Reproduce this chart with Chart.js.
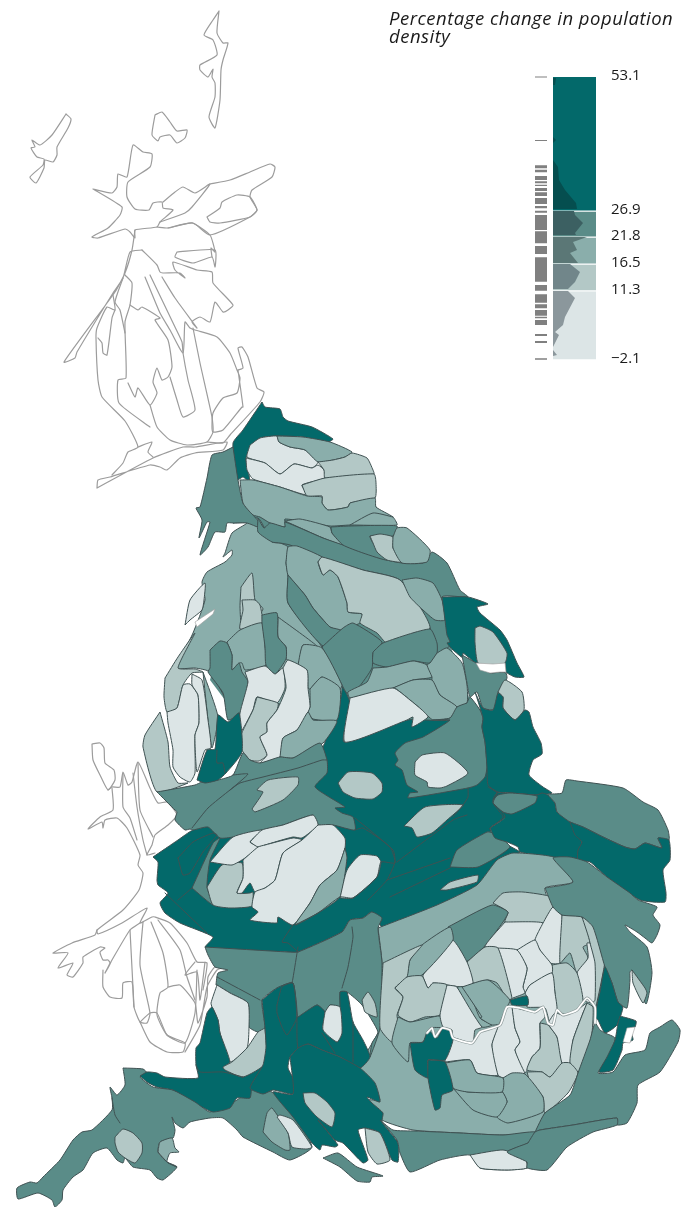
<!DOCTYPE html>
<html>
<head>
<meta charset="utf-8">
<title>Percentage change in population density</title>
<script src="https://cdn.jsdelivr.net/npm/chart.js@4"></script>
<style>
  html, body { margin: 0; padding: 0; background: #fff; }
  #map { display: block; }
</style>
</head>
<body>
<canvas id="map" width="684" height="1207"></canvas>
<script>
// --------------- Legend values ---------------
const legendTitle = ['Percentage change in population', 'density'];
const bandEdges   = [53.1, 26.9, 21.8, 16.5, 11.3, -2.1];
const bandLabels  = ['53.1', '26.9', '21.8', '16.5', '11.3', '\u22122.1'];
// one span of the rug per run of districts, [top, bottom] in percent
const rugSpans = [
  [53.2, 53.0], [40.8, 40.6], [35.84, 35.25], [34.98, 34.47], [33.74, 32.96], [32.71, 32.32],
  [32.04, 31.79], [31.4, 30.81], [30.56, 29.83], [29.44, 28.27], [27.88, 27.43], [26.96, 26.57],
  [26.12, 23.19], [22.93, 20.59], [20.06, 18.5], [17.85, 13.08], [12.43, 11.32], [10.62, 8.97],
  [8.66, 7.88], [7.55, 6.43], [6.24, 5.92], [5.59, 4.61], [2.86, 2.46], [1.48, 1.1], [-1.9, -2.2],
];
// distribution inside each band, [band, x,y, x,y ...] on map coordinates
const legendProfile = [
  [0, [553,78, 556,78, 555,85, 553,85]],
  [0, [553,137, 556,140, 553,143]],
  [0, [553,160, 558,167, 559,180, 565,190, 576,203, 577,209, 553,209]],
  [1, [553,211, 574,211, 575,215, 583,223, 575,233, 576,235, 553,235]],
  [2, [553,237, 587,237, 573,242, 577,250, 570,253, 578,263, 553,263]],
  [3, [553,264, 570,264, 580,272, 575,282, 568,289, 553,289]],
  [4, [553,291, 568,291, 575,298, 565,317, 563,325, 555,332, 559,335, 553,347, 553,350, 557,355, 553,356]],
];

// --------------- Scotland and Wales (outline only) ---------------
const scotlandLines = [
  [219,11, 217,33, 223,43, 228,43, 223,60, 221,70, 220,100, 215,128, 209,117, 215,97, 215,83, 212,77, 213,69, 208,77, 200,70, 200,65, 217,55, 213,40, 204,35, 213,20, 219,11],
  [155,115, 162,112, 170,122, 177,131, 187,130, 185,138, 177,143, 170,135, 160,137, 158,141, 152,135, 155,115],
  [66,114, 71,119, 68,128, 57,147, 57,155, 53,162, 45,160, 44,168, 36,183, 30,177, 43,165, 44,159, 37,157, 31,148, 35,147, 32,140, 40,145, 52,135, 66,114],
  [93,189, 112,193, 117,187, 118,174, 127,177, 133,145, 143,152, 152,154, 150,167, 128,182, 127,197, 135,209, 149,210, 153,203, 162,202, 163,208, 173,210, 160,222, 157,227, 135,230, 135,238, 130,232, 125,229, 98,238, 92,237, 108,228, 120,215, 122,207, 93,189],
  [163,202, 175,192, 183,187, 195,193, 210,184, 192,207, 185,213, 160,222],
  [210,184, 230,180, 250,172, 270,164, 275,167, 272,177, 252,190, 250,197, 257,210, 250,217, 210,235, 193,223, 168,228, 157,227],
  [207,217, 220,208, 222,202, 237,195, 250,197, 257,210, 250,217, 220,223, 210,222, 207,217],
  [168,228, 192,223, 210,235, 215,252, 211,248, 212,257],
  [142,250, 157,265, 160,272, 163,273, 180,273, 185,278, 175,270, 173,262, 197,270, 212,272, 213,283, 233,305, 228,310, 223,312, 215,302, 210,322, 200,317, 192,322, 197,328, 175,298, 162,277],
  [177,252, 215,250, 215,267, 212,257, 193,263, 175,257, 177,252],
  [135,230, 132,250, 125,273, 115,292, 64,362, 75,358, 77,352, 113,293, 123,278, 130,252, 142,250],
  [113,295, 115,310, 107,307, 97,328, 96,338, 98,380, 102,397, 125,421, 138,447, 128,452, 123,463, 112,475],
  [98,338, 102,343, 103,353, 107,355, 112,318, 115,310],
  [125,275, 132,283, 130,305, 125,322, 126,378, 118,380, 119,403, 150,427],
  [123,278, 115,302, 120,310, 125,333],
  [130,305, 138,310, 142,307, 160,318, 155,320, 168,340, 172,367, 168,377, 162,380, 157,368, 153,382, 157,393, 150,405, 138,388, 135,397, 128,383],
  [145,277, 160,313, 170,330, 183,353, 185,322, 190,328, 195,330, 217,337, 230,353, 237,370, 240,378, 237,393, 223,398, 213,413, 212,427, 213,432, 223,430, 242,407, 243,407, 238,370],
  [150,275, 175,327, 182,342, 183,353, 188,380, 195,410, 183,417, 177,400, 170,377],
  [193,328, 200,363, 212,417, 213,432, 207,442, 187,445, 170,440, 157,427, 150,405],
  [238,370, 243,368, 238,348, 242,347, 248,357, 257,388, 264,392, 260,402, 230,435, 223,443, 207,442],
  [97,488, 153,458, 183,447, 195,447, 227,442, 223,450, 195,453, 180,458, 167,470, 160,467, 150,465, 110,477, 98,480, 97,488],
  [138,447, 152,442, 148,452, 153,457],
];
const walesLines = [
  [92,744, 100,743, 104,748, 105,763, 114,770, 115,780, 108,790, 100,775, 93,760, 92,744],
  [108,790, 112,787, 120,787, 123,772, 128,785, 132,782, 138,762, 150,788, 158,803, 167,802, 177,815, 168,825, 155,835, 152,845, 147,855, 155,853],
  [112,788, 113,810, 100,817, 88,829, 102,822, 103,828, 105,820, 117,818, 127,828, 140,855, 138,865, 143,873, 139,890, 123,910, 97,930, 98,934, 122,923, 147,908, 140,923, 152,917, 155,917, 170,923, 187,943, 197,962, 207,963, 203,990],
  [123,773, 123,807, 130,818, 137,840],
  [133,773, 137,807, 143,840, 147,855],
  [138,763, 140,810, 153,837],
  [97,930, 95,935, 72,943, 53,953, 68,953, 58,968, 73,963, 67,975, 73,977, 83,963, 83,957, 100,947, 105,948, 100,952, 103,960, 108,960, 110,963, 105,973, 108,968, 112,960, 130,930, 140,923],
  [103,970, 103,987, 110,997, 122,998, 123,983, 132,982, 134,1007, 140,1022, 147,1023, 150,1013, 140,965, 143,922],
  [130,930, 134,1007],
  [151,922, 163,953, 168,987, 160,993, 157,1015, 167,1035, 185,1043, 195,1013, 197,970],
  [158,920, 180,950, 187,977, 195,1000],
  [140,1022, 150,1013, 157,1013, 167,1035, 185,1043, 183,1052, 167,1052, 150,1042, 140,1022],
  [168,987, 180,985, 195,1003, 198,1023, 207,997, 208,977, 215,967, 225,967, 217,970, 207,987, 200,1025, 185,1052],
  [195,962, 185,975, 197,972, 200,1000, 205,962],
];

// --------------- England, painted back to front: [band, x,y, x,y ...] ---------------
const northUnderlay = [250,490, 375,505, 395,530, 430,560, 440,600, 452,650, 470,700, 480,790, 345,745, 240,720, 210,680, 240,570, 250,530];
const northAreas = [
  [0, [153,857, 178,840, 193,830, 222,823, 300,790, 318,758, 325,742, 333,720, 342,687, 350,703, 344,742, 407,720, 450,720, 467,703, 480,710, 487,767, 498,792, 505,817, 490,828, 495,838, 520,852, 513,855, 495,866, 482,882, 440,908, 385,930, 372,912, 363,918, 350,920, 342,932, 298,952, 288,952, 210,948, 205,947, 213,937, 180,923, 165,913, 160,903, 168,893, 158,885, 157,880, 158,862]],
  [2, [233,523, 247,523, 232,533, 225,553, 223,557, 232,550, 232,555, 225,562, 207,572, 202,582, 205,600, 193,633, 177,668, 195,668, 210,672, 235,715, 240,710, 265,700, 310,715, 333,722, 342,687, 322,647, 288,603, 288,575, 286,563, 288,547, 280,543, 272,542, 258,518]],
  [0, [262,402, 265,407, 280,409, 283,417, 288,421, 312,427, 333,439, 328,442, 303,437, 277,436, 260,438, 252,447, 246,458, 250,482, 243,477, 237,480, 233,443, 243,430]],
  [1, [233,447, 223,452, 212,455, 207,478, 200,507, 196,508, 202,520, 199,538, 207,522, 210,522, 200,555, 208,547, 215,532, 225,532, 227,523, 233,523, 247,523, 260,528, 264,528, 253,515, 243,503, 238,480]],
  [4, [250,445, 260,438, 277,436, 279,442, 290,447, 305,450, 318,462, 312,468, 294,464, 280,474, 265,463, 247,457]],
  [4, [246,458, 265,463, 280,474, 294,464, 312,468, 318,465, 324,470, 325,478, 302,485, 307,495, 280,487, 253,479, 247,470]],
  [2, [277,436, 303,437, 330,442, 352,452, 345,457, 333,460, 318,462, 305,450, 290,447, 279,442]],
  [3, [318,462, 333,460, 345,457, 352,453, 367,458, 373,470, 374,474, 325,478, 324,470]],
  [3, [302,485, 325,478, 374,474, 376,483, 375,498, 350,503, 348,507, 328,510, 322,503, 322,496, 307,496]],
  [2, [240,480, 253,480, 280,487, 307,496, 322,497, 322,503, 328,510, 348,507, 350,503, 375,498, 376,507, 393,517, 397,525, 350,525, 330,526, 285,519, 285,527, 270,523, 260,517, 253,515, 243,503]],
  [2, [285,521, 300,519, 330,527, 332,533, 343,545, 323,538]],
  [1, [258,518, 264,528, 270,523, 285,527, 285,522, 323,538, 343,545, 387,560, 402,563, 423,563, 432,552, 447,563, 460,590, 468,597, 442,597, 452,642, 438,655, 430,628, 400,580, 363,570, 322,557, 290,545, 280,543, 272,542, 258,532]],
  [1, [331,527, 350,526, 397,526, 393,536, 370,536, 373,543, 387,560, 363,553, 343,545, 332,533]],
  [3, [370,536, 380,534, 393,537, 393,548, 402,562, 387,560, 377,552, 373,543]],
  [2, [393,537, 397,528, 407,528, 430,550, 427,562, 402,563, 393,548]],
  [2, [286,563, 288,547, 297,546, 322,557, 318,562, 323,575, 330,570, 338,577, 347,603, 348,612, 362,614, 360,623, 340,630, 330,627, 313,608, 305,595, 288,575]],
  [3, [318,562, 322,557, 363,570, 400,580, 430,628, 387,643, 377,633, 360,623, 362,614, 348,612, 347,603, 338,577, 330,570, 323,575]],
  [2, [402,580, 417,578, 433,583, 442,600, 445,620, 435,620, 423,610, 410,597]],
  [1, [288,575, 305,595, 313,608, 330,627, 340,630, 347,642, 323,646, 288,603]],
  [1, [322,647, 343,628, 353,623, 382,642, 373,653, 372,668, 358,688, 347,693, 342,685]],
  [1, [373,652, 383,643, 430,629, 437,643, 437,653, 430,663, 413,661, 387,667, 373,663]],
  [2, [373,668, 387,667, 413,661, 427,665, 432,677, 413,680, 393,688, 350,698, 348,692, 367,682]],
  [2, [437,653, 447,648, 462,663, 467,685, 467,703, 457,707, 450,702, 440,695, 432,680, 432,677, 427,665, 430,663]],
  [2, [393,688, 413,680, 432,680, 440,695, 457,707, 450,718, 433,720, 422,710, 410,700, 395,688]],
  [4, [350,698, 393,688, 410,700, 422,710, 428,717, 412,727, 413,717, 407,720, 345,742]],
  [1, [467,703, 470,697, 480,710, 483,718, 482,727, 485,742, 487,767, 485,777, 477,785, 468,788, 408,798, 410,793, 418,792, 407,785, 402,770, 395,765, 398,760, 395,753, 405,743, 423,737, 450,720, 433,720, 450,718, 457,707]],
  [4, [415,762, 422,755, 445,753, 468,773, 447,786, 440,788, 428,787, 427,782, 415,775]],
  [0, [442,597, 468,597, 488,604, 477,607, 480,613, 500,630, 507,640, 517,663, 524,677, 515,677, 506,672, 505,663, 493,665, 476,663, 463,653, 463,658, 453,650, 447,643, 450,642, 447,635, 445,620]],
  [3, [475,628, 480,626, 493,632, 507,653, 505,663, 493,665, 478,663, 475,643]],
  [1, [462,655, 476,663, 490,673, 500,672, 506,673, 507,678, 505,682, 498,692, 496,707, 493,710, 483,708, 477,692, 470,697, 467,683]],
  [3, [498,692, 505,680, 522,692, 524,710, 515,720, 503,708, 503,697]],
  [0, [475,692, 483,708, 493,710, 498,693, 503,697, 503,708, 515,720, 525,710, 529,712, 533,727, 541,743, 542,754, 533,760, 529,775, 543,787, 552,793, 537,795, 510,793, 498,792, 488,785, 487,767, 485,742, 482,727, 483,718]],
];
const lancashireAreas = [
  [3, [241,587, 252,573, 255,600, 263,609, 253,622, 242,627, 240,607]],
  [4, [185,625, 190,600, 205,583, 204,600, 202,610, 190,620]],
  [3, [242,600, 255,600, 260,605, 262,623, 240,629, 243,610]],
  [2, [278,617, 318,647, 303,645, 298,665, 288,660, 286,659, 286,647, 278,637]],
  [2, [227,642, 240,630, 262,623, 265,647, 266,665, 245,670, 242,663, 239,663, 232,670, 232,655]],
  [2, [298,665, 303,645, 322,648, 342,685, 340,689, 322,677, 310,689, 308,688, 307,670]],
  [2, [310,689, 322,677, 340,688, 337,720, 313,719, 308,712, 310,707]],
  [1, [262,615, 277,613, 278,637, 286,647, 286,659, 275,674, 266,665, 265,647, 262,623]],
  [1, [210,650, 220,641, 227,643, 232,655, 232,670, 239,663, 242,672, 248,682, 240,713, 228,720, 223,693, 208,672, 210,668]],
  [3, [165,678, 178,657, 195,633, 178,668, 195,669, 203,672, 192,673, 183,685, 177,708, 167,712, 164,697]],
  [2, [203,672, 218,717, 212,748, 208,720]],
  [4, [167,712, 177,708, 183,685, 190,684, 198,695, 199,723, 195,735, 195,773, 190,782, 180,777, 173,767, 173,750, 168,723]],
  [4, [192,674, 202,680, 208,720, 211,748, 205,750, 197,772, 195,735, 199,723, 198,695, 192,685]],
  [3, [160,712, 168,742, 170,767, 178,783, 188,783, 157,792, 143,747, 145,735]],
  [4, [245,672, 265,666, 275,674, 283,668, 285,688, 277,703, 257,697, 253,710, 240,733, 240,713, 248,682]],
  [3, [257,697, 278,703, 277,710, 267,723, 267,732, 260,737, 267,755, 259,761, 250,760, 240,747, 240,737, 253,710]],
  [4, [283,668, 288,660, 307,670, 308,688, 310,707, 305,718, 297,730, 283,738, 280,757, 260,763, 267,755, 260,737, 267,732, 267,723, 277,710, 286,688]],
  [2, [280,757, 283,738, 297,730, 308,712, 313,720, 337,721, 323,743, 293,758]],
  [1, [157,792, 175,810, 177,812, 175,820, 185,830, 190,829, 193,830, 208,827, 220,838, 233,837, 262,830, 283,825, 313,815, 318,825, 333,825, 355,830, 353,817, 342,813, 335,808, 345,807, 315,787, 327,773, 327,760, 320,743, 293,758, 280,757, 260,763, 250,760, 243,753, 233,775, 218,780, 202,782, 195,785]],
  [3, [252,809, 263,792, 257,790, 268,780, 298,777, 298,785, 283,800, 255,812]],
  [0, [197,780, 207,750, 215,749, 218,715, 228,722, 239,713, 242,752, 226,773, 218,780, 205,783]],
];
const westMidlandAreas = [
  [1, [192,888, 213,843, 220,838, 210,860, 207,887, 213,905]],
  [3, [207,887, 222,865, 242,863, 243,878, 237,893, 250,893, 253,892, 252,906, 230,908, 213,905]],
  [4, [210,862, 233,837, 262,830, 250,842, 258,847, 245,858, 232,865]],
  [4, [250,842, 262,830, 283,825, 313,815, 318,825, 302,838, 293,837, 265,845, 258,847]],
  [4, [243,860, 258,847, 265,845, 293,838, 302,840, 283,853, 275,880, 265,888, 255,892, 250,883, 242,893, 237,893, 243,878]],
  [4, [318,825, 333,825, 345,838, 345,848, 337,870, 320,885, 310,903, 293,925, 278,917, 277,923, 250,920, 258,912, 252,907, 255,892, 265,888, 275,880, 283,853, 302,840]],
  [2, [345,848, 347,858, 340,897, 318,913, 295,925, 310,903, 320,885, 337,870]],
  [4, [340,898, 347,870, 360,855, 377,856, 381,862, 377,877, 353,898]],
  [3, [338,783, 348,772, 372,773, 382,783, 382,792, 373,799, 355,798, 343,792]],
  [3, [404,826, 425,807, 463,805, 447,820, 432,833, 417,837, 412,828]],
  [1, [450,867, 478,867, 510,847, 493,833, 487,832, 457,850]],
];
const eastAreas = [
  [0, [490,828, 505,817, 493,800, 497,793, 510,793, 537,795, 542,793, 548,795, 555,803, 557,812, 570,822, 582,843, 578,860, 553,858, 520,852, 518,847, 507,842, 495,838]],
  [1, [493,800, 498,795, 510,793, 537,796, 535,803, 512,814, 503,812, 493,803]],
  [1, [550,794, 562,793, 566,780, 577,781, 623,788, 643,802, 658,810, 668,830, 669,840, 658,838, 662,848, 645,843, 635,849, 625,847, 603,837, 583,827, 570,822, 557,812, 555,803, 548,795]],
  [0, [570,822, 583,827, 603,837, 625,847, 635,849, 645,843, 662,848, 658,838, 669,840, 670,860, 663,870, 666,893, 665,902, 640,900, 607,877, 590,862, 578,860, 578,850, 582,842, 575,835]],
  [2, [378,928, 437,905, 477,885, 497,860, 513,853, 557,858, 573,882, 545,888, 553,907, 593,927, 605,967, 595,1017, 577,1073, 545,1113, 535,1132, 503,1135, 460,1133, 413,1130, 382,1120, 367,1100, 380,1100, 360,1067, 380,1028, 382,963]],
  [3, [440,890, 450,882, 478,875, 477,882, 447,890]],
];
const southWestAreas = [
  [1, [205,947, 208,955, 215,967, 228,970, 218,973, 216,985, 217,985, 230,993, 248,1003, 249,1027, 258,1032, 265,1028, 262,1000, 277,988, 293,983, 298,1017, 317,1005, 325,1012, 330,1005, 340,1007, 340,992, 347,992, 362,1005, 378,1032, 372,1043, 370,1057, 380,1028, 382,963, 378,928, 382,918, 372,912, 363,918, 350,920, 342,932, 298,952, 288,952]],
  [3, [362,1000, 368,992, 375,1003, 377,1017, 365,1012]],
  [4, [217,985, 230,993, 248,1003, 249,1027, 247,1048, 230,1062, 220,1033, 218,1020, 212,1007, 211,1003]],
  [1, [123,1068, 143,1069, 147,1073, 140,1077, 153,1087, 173,1090, 197,1102, 202,1107, 210,1112, 237,1100, 250,1090, 272,1092, 290,1110, 312,1147, 290,1160, 273,1152, 243,1137, 237,1130, 223,1118, 210,1118, 190,1122, 183,1128, 175,1123, 172,1117, 175,1130, 173,1138, 160,1142, 158,1152, 167,1162, 177,1167, 163,1180, 157,1178, 150,1170, 133,1167, 125,1158, 123,1163, 117,1160, 107,1148, 93,1153, 83,1170, 73,1177, 63,1190, 62,1200, 55,1207, 52,1200, 38,1193, 18,1199, 17,1188, 30,1182, 37,1183, 43,1177, 60,1160, 73,1140, 82,1132, 92,1130, 112,1110, 112,1098, 110,1087, 117,1095, 125,1085]],
  [3, [115,1137, 123,1129, 133,1133, 142,1143, 142,1153, 135,1163, 125,1158, 118,1152, 115,1143]],
  [2, [158,1152, 160,1142, 172,1138, 175,1148, 179,1152, 170,1153, 167,1162, 177,1167, 167,1162]],
  [0, [140,1076, 147,1072, 157,1073, 165,1077, 198,1078, 196,1065, 196,1048, 200,1043, 207,1013, 212,1007, 218,1020, 220,1033, 230,1062, 223,1068, 243,1077, 263,1065, 252,1085, 250,1098, 237,1098, 230,1108, 213,1112, 202,1107, 195,1102, 173,1090, 157,1087, 147,1082]],
  [3, [265,1028, 266,1063, 243,1077, 225,1070, 223,1067, 232,1062, 247,1048, 258,1032]],
  [0, [262,1000, 277,988, 293,983, 297,1017, 298,1048, 290,1057, 288,1068, 295,1082, 293,1094, 273,1090, 263,1094, 250,1088, 263,1065, 266,1047, 265,1028]],
  [0, [298,1017, 317,1005, 325,1012, 323,1028, 337,1042, 341,1035, 340,992, 347,992, 353,1022, 363,1040, 370,1057, 360,1068, 340,1057, 322,1050, 308,1044, 298,1048, 297,1017]],
  [4, [325,1012, 330,1005, 340,1007, 342,1033, 337,1042, 323,1030]],
  [0, [290,1057, 298,1048, 308,1044, 322,1050, 340,1057, 360,1068, 375,1083, 380,1102, 367,1097, 372,1103, 383,1113, 382,1122, 398,1143, 398,1162, 392,1160, 380,1133, 365,1128, 358,1130, 368,1160, 363,1163, 343,1143, 335,1140, 318,1120, 338,1145, 335,1147, 322,1145, 320,1150, 312,1143, 293,1117, 273,1092, 293,1094]],
  [3, [303,1093, 315,1093, 327,1102, 335,1113, 332,1127, 317,1117, 305,1103]],
  [3, [365,1128, 380,1133, 390,1160, 377,1164, 368,1152]],
  [2, [263,1132, 267,1113, 272,1108, 288,1133, 290,1150, 285,1150, 272,1142]],
  [4, [277,1117, 280,1115, 293,1120, 312,1147, 307,1149, 292,1147, 288,1133]],
  [1, [323,1158, 338,1153, 357,1167, 383,1176, 372,1177, 370,1182, 357,1181, 340,1167]],
];
const londonAreas = [
  [3, [493,903, 503,893, 523,892, 552,897, 553,907, 543,923, 505,922, 508,912]],
  [1, [448,927, 492,905, 508,912, 503,922, 483,948, 465,962, 453,948, 450,932]],
  [4, [505,922, 543,923, 535,940, 517,950, 485,947]],
  [4, [543,923, 553,907, 562,915, 560,963, 550,963, 540,950, 535,940]],
  [3, [562,915, 582,917, 590,943, 583,947, 588,958, 577,973, 570,953, 560,963]],
  [3, [582,917, 593,923, 605,957, 603,973, 595,1010, 593,1003, 590,943]],
  [4, [590,943, 595,963, 595,1000, 592,1003, 583,1000, 577,973, 588,958, 587,943]],
  [3, [552,965, 567,963, 577,973, 583,1000, 577,1010, 567,1015, 557,1010, 555,993, 552,973]],
  [4, [517,950, 535,940, 540,950, 552,965, 552,973, 530,985, 525,993, 523,987, 527,968]],
  [4, [525,993, 530,985, 552,973, 555,993, 557,1010, 550,1023, 545,1008, 527,1007, 528,1000]],
  [4, [498,948, 517,950, 527,968, 523,987, 525,993, 513,998, 510,1000]],
  [3, [467,962, 485,947, 498,948, 512,998, 508,1000, 497,983, 488,980, 473,983]],
  [4, [423,975, 452,940, 467,962, 473,983, 463,987, 447,985, 433,983, 428,988, 423,977]],
  [2, [407,977, 410,960, 422,945, 450,927, 453,940, 422,975]],
  [3, [383,963, 422,945, 410,960, 407,977, 395,988, 403,997, 397,1015, 398,1023, 392,1042, 380,1028]],
  [3, [395,988, 407,977, 422,976, 428,988, 433,983, 447,985, 440,1015, 425,1017, 410,1022, 398,1015, 403,997]],
  [2, [398,1017, 410,1022, 440,1016, 443,1027, 430,1028, 423,1042, 410,1043, 408,1062, 392,1043]],
  [4, [447,985, 457,987, 482,1027, 475,1030, 473,1042, 462,1043, 452,1040, 452,1030, 443,1027, 440,1015]],
  [2, [457,987, 467,987, 480,1018, 492,1025, 482,1027]],
  [2, [462,987, 488,980, 510,1000, 507,1007, 502,1023, 492,1025, 480,1018, 482,1017]],
  [0, [510,1000, 527,996, 528,1005, 512,1005]],
  [4, [445,1062, 447,1045, 453,1038, 472,1043, 480,1032, 498,1027, 492,1045, 498,1075, 477,1073, 470,1060]],
  [4, [498,1027, 507,1007, 512,1007, 515,1028, 520,1042, 515,1050, 525,1073, 503,1078, 498,1075, 492,1045]],
  [4, [512,1007, 535,1012, 543,1007, 545,1017, 540,1023, 540,1048, 532,1057, 527,1070, 525,1073, 515,1050, 520,1042, 515,1028]],
  [3, [540,1023, 548,1025, 557,1037, 562,1063, 550,1077, 542,1072, 527,1070, 532,1057, 540,1048]],
  [4, [548,1023, 555,1013, 563,1015, 577,1010, 587,1003, 583,1013, 573,1040, 570,1063, 562,1063, 557,1037, 550,1027]],
  [3, [587,1003, 593,1007, 592,1033, 587,1053, 578,1073, 570,1063, 573,1040, 583,1013]],
  [3, [527,1072, 542,1072, 550,1077, 562,1063, 570,1063, 578,1073, 568,1093, 545,1113, 543,1097, 530,1082]],
  [2, [503,1078, 512,1073, 525,1074, 543,1097, 543,1112, 508,1123, 497,1117, 507,1102, 502,1090]],
  [2, [453,1088, 468,1092, 502,1092, 507,1102, 497,1117, 473,1110]],
  [2, [445,1063, 470,1060, 477,1073, 503,1078, 502,1092, 468,1092, 453,1088]],
  [0, [410,1043, 423,1042, 428,1030, 437,1038, 443,1028, 450,1030, 453,1040, 445,1060, 428,1060, 428,1078, 415,1070]],
  [0, [428,1060, 445,1062, 453,1090, 442,1095, 440,1108, 435,1110, 428,1078]],
];
const thamesEstuaryAreas = [
  [1, [545,888, 573,882, 553,858, 570,857, 587,862, 607,877, 630,893, 638,900, 657,907, 653,915, 660,925, 657,935, 652,943, 645,938, 637,932, 625,925, 630,932, 647,947, 652,973, 646,1004, 632,970, 630,972, 630,980, 627,1008, 618,1002, 612,983, 605,967, 593,927, 582,917, 562,915, 553,907]],
  [3, [632,970, 645,988, 647,993, 643,1003, 633,983]],
  [0, [600,992, 605,967, 612,983, 618,1002, 623,1007, 617,1025, 605,1033, 598,1020, 595,1017, 598,1000]],
  [1, [535,1132, 545,1113, 570,1095, 578,1073, 590,1040, 595,1023, 600,1030, 605,1033, 615,1038, 610,1055, 598,1073, 613,1072, 625,1055, 645,1050, 650,1033, 660,1027, 672,1020, 680,1030, 678,1042, 660,1072, 638,1085, 637,1103, 627,1123, 617,1125, 617,1118, 573,1125, 540,1130]],
  [0, [620,1016, 636,1021, 635,1027, 630,1028, 633,1040, 623,1043, 622,1050, 613,1070, 599,1072, 607,1057, 615,1040, 618,1023]],
  [1, [380,1120, 393,1130, 415,1131, 460,1133, 503,1135, 535,1132, 528,1143, 507,1152, 527,1162, 527,1168, 507,1170, 480,1168, 470,1155, 440,1160, 410,1172, 400,1153, 397,1140]],
  [4, [470,1155, 503,1150, 525,1158, 527,1168, 507,1170, 480,1168]],
  [1, [528,1143, 535,1132, 540,1130, 573,1125, 617,1118, 617,1125, 593,1132, 567,1147, 547,1170, 527,1168, 527,1162, 507,1152]],
];
// boroughs and county lines that split two areas of one band
const innerLines = [
  [165,893, 207,933],
  [178,858, 193,842, 213,833, 217,835, 203,852, 190,873, 183,875, 178,858],
  [178,900, 192,888],
  [293,925, 282,942, 288,943, 298,952],
  [295,925, 318,913, 340,897, 353,898, 377,877, 381,862, 395,863, 390,847, 363,828, 355,830],
  [355,818, 393,850, 395,862, 387,880, 368,900],
  [397,862, 453,820, 467,815],
  [468,788, 468,797, 463,805, 453,817],
  [488,787, 497,793, 493,803, 503,817, 490,828],
  [387,880, 450,858],
  [450,868, 390,897],
  [192,828, 208,808, 230,790, 240,783, 263,777, 298,768, 322,760, 327,760],
  [233,775, 248,774, 230,790],
  [217,750, 217,763, 223,763, 225,773],
  [298,947, 293,978, 292,983],
  [342,988, 348,967, 353,937, 352,927],
  [217,977, 260,1000],
  [196,1065, 200,1072, 223,1072, 243,1077],
  [277,1005, 282,987, 293,983, 297,1017, 287,1035, 282,1027, 277,1013, 277,1005],
  [322,1033, 335,1053],
  [353,1022, 353,1062],
  [112,1098, 115,1115, 120,1123],
  [350,525, 373,513, 393,517],
];
const seaGaps = [
  [476,663, 493,664, 505,663, 506,672, 500,672, 490,673, 480,670],
  [195,622, 215,609, 213,614, 197,627],
  [627,1028, 635,1027, 630,1043, 623,1042],
];
const thames = [427,1033, 432,1028, 435,1037, 442,1028, 450,1030, 453,1038, 472,1043, 480,1032, 500,1025, 507,1007, 520,1008, 535,1012, 543,1007, 548,1023, 553,1025, 557,1010, 563,1015, 577,1010, 587,998, 595,1007, 595,1023];

// --------------- Styles ---------------
const BAND_COLOURS   = ['#03696a', '#5a8c88', '#8aaeab', '#b3c8c6', '#dce5e6'];
const SHADOW_COLOURS = ['#054e4f', '#3c6062', '#5b7776', '#71868a', '#8b979c'];
const EDGE_COLOUR    = '#3f5152';
const OUTLINE_COLOUR = '#9c9c9c';
const LEGEND_BAR     = { left: 553, right: 596 };
const RUG            = { left: 535, right: 547 };
const SOFTEN         = 0.18;

function toPoints(flat) {
  const pts = [];
  for (let i = 0; i < flat.length; i += 2) pts.push({ x: flat[i], y: flat[i + 1] });
  return pts;
}

function area(flat, fillColour, edgeColour, edgeWidth, yAxisID, tension) {
  const pts = toPoints(flat);
  pts.push(pts[0]);
  return {
    data: pts, yAxisID: yAxisID || 'y', fill: 'shape', showLine: true,
    backgroundColor: fillColour, borderColor: edgeColour, borderWidth: edgeWidth,
    borderJoinStyle: 'round', pointRadius: 0, tension: tension || 0,
  };
}

function line(flat, colour, width) {
  return {
    data: toPoints(flat), yAxisID: 'y', fill: false, showLine: true,
    borderColor: colour, borderWidth: width, borderJoinStyle: 'round',
    borderCapStyle: 'round', pointRadius: 0, tension: SOFTEN,
  };
}

function buildDatasets() {
  const sets = [];
  scotlandLines.concat(walesLines).forEach(l => sets.push(line(l, OUTLINE_COLOUR, 1.2)));
  sets.push(area(northUnderlay, BAND_COLOURS[1], BAND_COLOURS[1], 0));
  [northAreas, lancashireAreas, westMidlandAreas, eastAreas, southWestAreas, londonAreas, thamesEstuaryAreas].forEach(group => {
    group.forEach(([band, flat]) => sets.push(area(flat, BAND_COLOURS[band], EDGE_COLOUR, 1, 'y', SOFTEN)));
  });
  innerLines.forEach(l => sets.push(line(l, EDGE_COLOUR, 1)));
  seaGaps.forEach(g => sets.push(area(g, '#ffffff', OUTLINE_COLOUR, 0.6)));
  sets.push(line(thames, '#8d9a9a', 3));
  sets.push(line(thames, '#ffffff', 1.7));

  // legend: colour bands on the percent axis, then distribution and rug
  BAND_COLOURS.forEach((c, i) => {
    const top = bandEdges[i] - (i ? 0.12 : 0);
    const bottom = bandEdges[i + 1] + (i < 4 ? 0.12 : 0);
    sets.push(area([LEGEND_BAR.left, top, LEGEND_BAR.right, top, LEGEND_BAR.right, bottom, LEGEND_BAR.left, bottom], c, c, 0, 'percent'));
  });
  legendProfile.forEach(([band, flat]) => sets.push(area(flat, SHADOW_COLOURS[band], SHADOW_COLOURS[band], 0)));
  rugSpans.forEach(([top, bottom]) => {
    sets.push(area([RUG.left, top, RUG.right, top, RUG.right, bottom, RUG.left, bottom], '#808080', '#808080', 0, 'percent'));
  });
  sets.forEach((s, i) => { s.order = sets.length - i; });
  return sets;
}

const legendText = {
  id: 'legendText',
  afterDatasetsDraw(chart) {
    const { ctx, scales } = chart;
    ctx.save();
    ctx.fillStyle = '#1a1a1a';
    ctx.textBaseline = 'middle';
    ctx.textAlign = 'left';
    ctx.font = '15px "Open Sans"';
    bandLabels.forEach((label, i) => {
      ctx.fillText(label, scales.x.getPixelForValue(611), scales.percent.getPixelForValue(bandEdges[i]) - 1);
    });
    ctx.font = 'italic 18.5px "Open Sans"';
    ctx.letterSpacing = '0.5px';
    legendTitle.forEach((t, i) => ctx.fillText(t, scales.x.getPixelForValue(389), scales.y.getPixelForValue(20 + i * 18)));
    ctx.restore();
  },
};

new Chart(document.getElementById('map'), {
  type: 'scatter',
  data: { datasets: buildDatasets() },
  plugins: [legendText],
  options: {
    responsive: false,
    animation: false,
    layout: { padding: 0 },
    plugins: { legend: { display: false }, tooltip: { enabled: false } },
    scales: {
      x: { type: 'linear', display: false, min: 0, max: 684 },
      y: { type: 'linear', display: false, min: 0, max: 1207, reverse: true },
      // 5.115 map units per percentage point, 53.1 sits at map y 77
      percent: { type: 'linear', display: false, min: 53.1 - (1207 - 77) / 5.115, max: 53.1 + 77 / 5.115 },
    },
  },
});
</script>
</body>
</html>
